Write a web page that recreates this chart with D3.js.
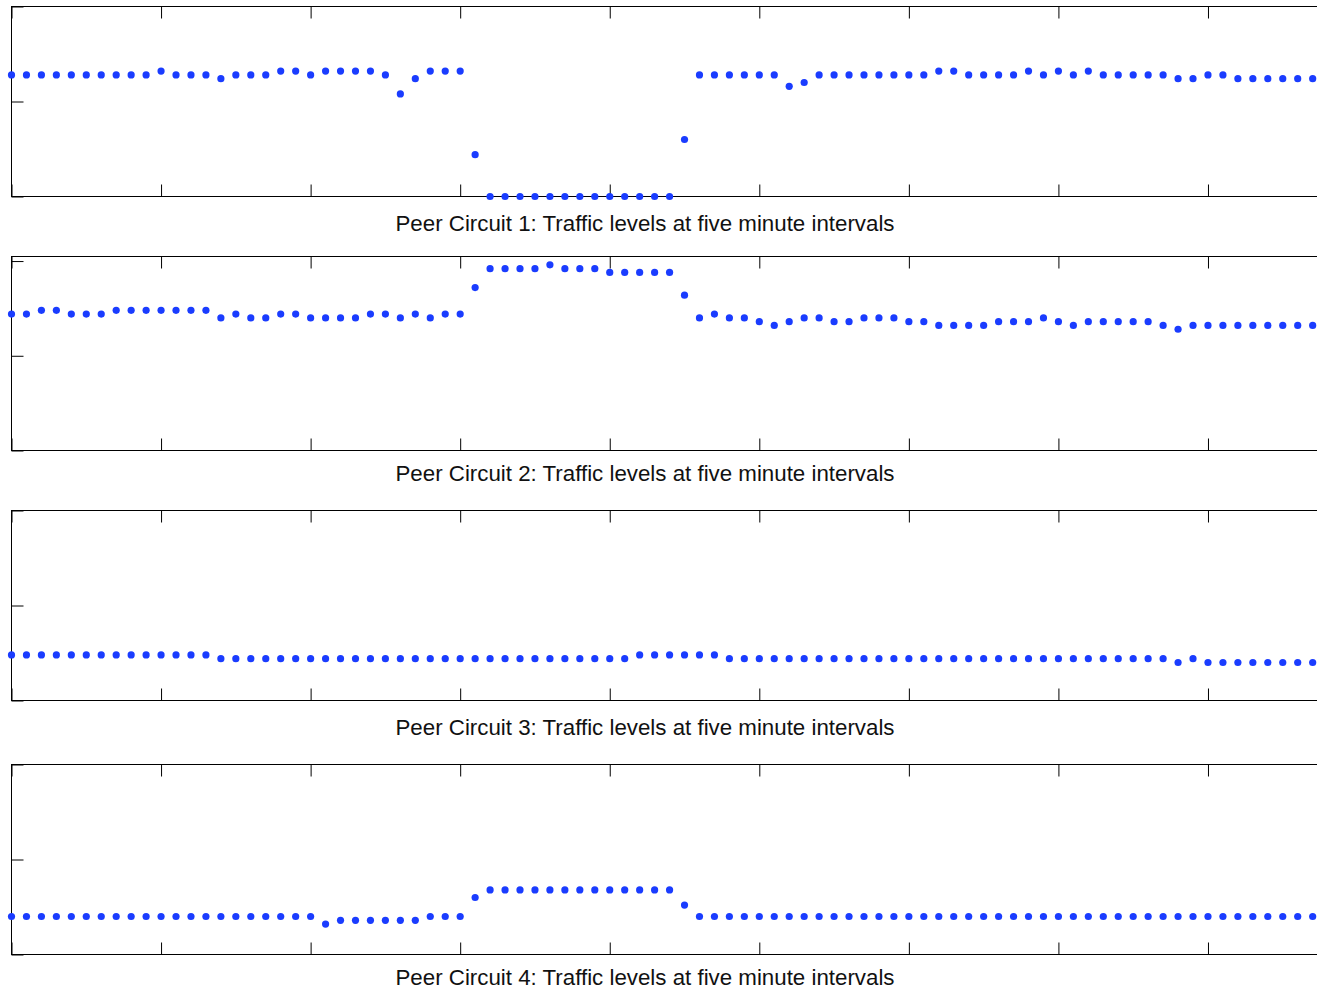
<!DOCTYPE html>
<html>
<head>
<meta charset="utf-8">
<script src="https://cdn.jsdelivr.net/npm/d3@7"></script>
<style>
    body { margin: 0; background: #fff; }
    .caption { font-family: "Liberation Sans", Arial, Helvetica, sans-serif; font-size: 22.3px; fill: #111; }
</style>
</head>
<body>
<div class="E"></div>
<script>
// sample times, one every five minutes
var sampleMinutes = d3.range(88).map(function (i) { return i * 5; });
var xTicks = [0, 50, 100, 150, 200, 250, 300, 350, 400];
var yTicks = [0, 50, 100];

var captions = [
    "Peer Circuit 1: Traffic levels at five minute intervals",
    "Peer Circuit 2: Traffic levels at five minute intervals",
    "Peer Circuit 3: Traffic levels at five minute intervals",
    "Peer Circuit 4: Traffic levels at five minute intervals"
];

var circuit1 = [64, 64, 64, 64, 64, 64, 64, 64, 64, 64, 66, 64, 64, 64, 62, 64, 64, 64, 66, 66,
    64, 66, 66, 66, 66, 64, 54, 62, 66, 66, 66, 22, 0, 0, 0, 0, 0, 0, 0, 0,
    0, 0, 0, 0, 0, 30, 64, 64, 64, 64, 64, 64, 58, 60, 64, 64, 64, 64, 64, 64,
    64, 64, 66, 66, 64, 64, 64, 64, 66, 64, 66, 64, 66, 64, 64, 64, 64, 64, 62, 62,
    64, 64, 62, 62, 62, 62, 62, 62];

var circuit2 = [72, 72, 74, 74, 72, 72, 72, 74, 74, 74, 74, 74, 74, 74, 70, 72, 70, 70, 72, 72,
    70, 70, 70, 70, 72, 72, 70, 72, 70, 72, 72, 86, 96, 96, 96, 96, 98, 96, 96, 96,
    94, 94, 94, 94, 94, 82, 70, 72, 70, 70, 68, 66, 68, 70, 70, 68, 68, 70, 70, 70,
    68, 68, 66, 66, 66, 66, 68, 68, 68, 70, 68, 66, 68, 68, 68, 68, 68, 66, 64, 66,
    66, 66, 66, 66, 66, 66, 66, 66];

var circuit3 = [24, 24, 24, 24, 24, 24, 24, 24, 24, 24, 24, 24, 24, 24, 22, 22, 22, 22, 22, 22,
    22, 22, 22, 22, 22, 22, 22, 22, 22, 22, 22, 22, 22, 22, 22, 22, 22, 22, 22, 22,
    22, 22, 24, 24, 24, 24, 24, 24, 22, 22, 22, 22, 22, 22, 22, 22, 22, 22, 22, 22,
    22, 22, 22, 22, 22, 22, 22, 22, 22, 22, 22, 22, 22, 22, 22, 22, 22, 22, 20, 22,
    20, 20, 20, 20, 20, 20, 20, 20];

var circuit4 = [20, 20, 20, 20, 20, 20, 20, 20, 20, 20, 20, 20, 20, 20, 20, 20, 20, 20, 20, 20,
    20, 16, 18, 18, 18, 18, 18, 18, 20, 20, 20, 30, 34, 34, 34, 34, 34, 34, 34, 34,
    34, 34, 34, 34, 34, 26, 20, 20, 20, 20, 20, 20, 20, 20, 20, 20, 20, 20, 20, 20,
    20, 20, 20, 20, 20, 20, 20, 20, 20, 20, 20, 20, 20, 20, 20, 20, 20, 20, 20, 20,
    20, 20, 20, 20, 20, 20, 20, 20];

var series = [circuit1, circuit2, circuit3, circuit4];
var yMax = [100, 102.4, 100, 100];

function initE() {
    var width = 1317, height = 989;
    var svg = d3.select(".E").append('svg').attr('width', width).attr('height', height);

    // panel frames [top, bottom] and caption baselines
    var frames = [[6.5, 196.5], [256.5, 450.5], [510.5, 700.5], [764.5, 954.5]];
    var captionY = [230.7, 480.7, 734.5, 985];

    var x = d3.scaleLinear()
        .domain([0, 440])
        .range([11.5, 11.5 + 88 * 14.956]);

    series.forEach(function (values, k) {
        var y = d3.scaleLinear()
            .domain([0, yMax[k]])
            .range([frames[k][1], frames[k][0]]);
        var g = svg.append('g');

        g.append('rect')
            .attr('x', x.range()[0]).attr('y', frames[k][0])
            .attr('width', x.range()[1] - x.range()[0])
            .attr('height', frames[k][1] - frames[k][0])
            .attr('fill', 'none').attr('stroke', '#000').attr('stroke-width', 1);

        //ticks point inward, no labels
        g.append('g').attr('transform', 'translate(0,' + frames[k][1] + ')')
            .call(d3.axisBottom(x).tickValues(xTicks).tickSize(-12).tickFormat(''));
        g.append('g').attr('transform', 'translate(0,' + frames[k][0] + ')')
            .call(d3.axisTop(x).tickValues(xTicks).tickSize(-12).tickFormat(''));
        g.append('g').attr('transform', 'translate(' + x.range()[0] + ',0)')
            .call(d3.axisLeft(y).tickValues(yTicks).tickSize(-12).tickFormat(''));
        g.selectAll('.domain').remove();
        g.selectAll('.tick line').attr('stroke', '#000');

        g.selectAll('circle').data(values).enter().append('circle')
            .attr('cx', function (d, i) { return x(sampleMinutes[i]); })
            .attr('cy', function (d) { return y(d); })
            .attr('r', 3.6)
            .attr('fill', '#1a3cff');

        svg.append('text').attr('class', 'caption')
            .attr('x', 645).attr('y', captionY[k])
            .attr('text-anchor', 'middle')
            .text(captions[k]);
    });
}

initE();
</script>
</body>
</html>
